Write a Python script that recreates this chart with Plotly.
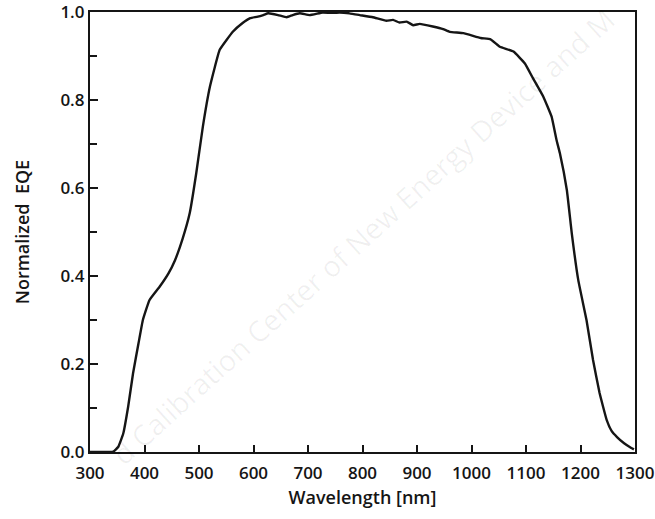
import plotly.graph_objects as go

# Normalized external quantum efficiency spectrum
wavelength_nm = [300, 320, 335, 343, 352, 361, 370, 379, 389, 397, 409, 428, 444, 456, 470,
                 483, 495, 507, 520, 538, 562, 580, 594, 606, 618, 627, 645, 661, 672, 685,
                 703, 727, 742, 758, 776, 795, 819, 844, 856, 868, 881, 893, 905, 929, 948,
                 960, 985, 1017, 1035, 1052, 1077, 1098, 1113, 1132, 1147, 1156, 1162, 1175,
                 1184, 1196, 1211, 1223, 1235, 1248, 1257, 1267, 1280, 1291, 1298]
eqe_norm = [0.0, 0.0, 0.0, 0.001, 0.012, 0.042, 0.103, 0.179, 0.247, 0.30, 0.345, 0.376,
            0.406, 0.436, 0.485, 0.543, 0.634, 0.739, 0.83, 0.914, 0.955, 0.975, 0.986,
            0.989, 0.993, 0.997, 0.993, 0.988, 0.993, 0.997, 0.993, 0.999, 0.998, 0.999,
            0.997, 0.993, 0.988, 0.98, 0.982, 0.976, 0.978, 0.970, 0.973, 0.967, 0.961,
            0.955, 0.952, 0.941, 0.938, 0.921, 0.910, 0.883, 0.849, 0.807, 0.762, 0.709,
            0.68, 0.595, 0.497, 0.39, 0.30, 0.209, 0.134, 0.073, 0.048, 0.034, 0.02, 0.011,
            0.006]

x_ticks = [300, 400, 500, 600, 700, 800, 900, 1000, 1100, 1200, 1300]
y_ticks = [0.0, 0.2, 0.4, 0.6, 0.8, 1.0]

font_family = "Open Sans, Liberation Sans, sans-serif"
ink = "#151515"

fig = go.Figure()
fig.add_trace(go.Scatter(
    x=wavelength_nm, y=eqe_norm, mode="lines",
    line=dict(color=ink, width=2.4, shape="spline", smoothing=0.3),
    hoverinfo="skip", showlegend=False, cliponaxis=True,
))

fig.update_layout(
    width=655, height=519,
    margin=dict(l=90, r=20, t=12, b=67),
    paper_bgcolor="white", plot_bgcolor="white",
    font=dict(family=font_family, color=ink, size=17),
    xaxis=dict(
        range=[300, 1300], tickvals=x_ticks, ticktext=[str(v) for v in x_ticks],
        ticks="inside", ticklen=7, tickwidth=2, tickcolor=ink,
        showline=True, linewidth=2.2, linecolor=ink, mirror=True,
        showgrid=False, zeroline=False, automargin=False,
        ticklabeloverflow="allow", ticklabelstandoff=4,
        tickfont=dict(size=17, color=ink, weight=600),
        title=dict(text="Wavelength [nm]", font=dict(size=18, color=ink, weight=600), standoff=9),
    ),
    yaxis=dict(
        range=[0, 1], tickvals=y_ticks, ticktext=[f"{v:.1f}" for v in y_ticks],
        ticks="inside", ticklen=8, tickwidth=2, tickcolor=ink,
        minor=dict(dtick=0.1, tick0=0, ticks="inside", ticklen=7, tickwidth=2,
                   tickcolor=ink, showgrid=False),
        showline=True, linewidth=2.2, linecolor=ink, mirror=True,
        showgrid=False, zeroline=False, automargin=False,
        ticklabeloverflow="allow",
        tickfont=dict(size=17, color=ink, weight=600),
        title=dict(text="Normalized  EQE", font=dict(size=18, color=ink, weight=600), standoff=26),
    ),
)

# Faint diagonal watermark
fig.add_annotation(
    xref="paper", yref="paper", x=0.5, y=0.49,
    text="d Calibration Center of New Energy Device and M",
    showarrow=False, textangle=-42,
    font=dict(family=font_family, size=29, color="rgba(0,0,0,0.06)"),
)

fig.write_html("out.html")
